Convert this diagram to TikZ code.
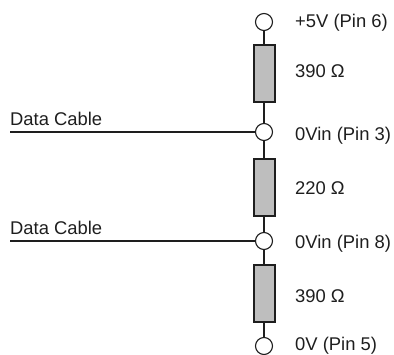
\documentclass[tikz,border=0pt]{standalone}
\usepackage{fontspec}
\setmainfont{Liberation Sans}
\definecolor{resgray}{RGB}{190,190,190}
\definecolor{inkc}{RGB}{30,30,30}
\tikzset{
  pin/.style={circle,draw=inkc,fill=white,line width=1.1pt,minimum size=17pt,inner sep=0pt},
  res/.style={rectangle,draw=inkc,fill=resgray,line width=1.2pt,minimum width=21pt,minimum height=57pt,inner sep=0pt},
  lab/.style={anchor=base west,inner sep=0pt,font=\fontsize{18.4pt}{20pt}\selectfont,text=inkc},
  wire/.style={draw=inkc,line width=1.1pt}
}
\begin{document}
\begin{tikzpicture}[x=1pt,y=-1pt]
\useasboundingbox (0,0) rectangle (394,355);
\node[pin] (p1) at (264,22) {};
\node[pin] (p2) at (264,132) {};
\node[pin] (p3) at (264,241) {};
\node[pin] (p4) at (264,346) {};
\node[res] (r1) at (264.5,73.5) {};
\node[res] (r2) at (264.5,187.5) {};
\node[res] (r3) at (264.5,293.5) {};
\coordinate (d1) at (10,132);
\coordinate (d2) at (10,241);
\draw[wire] (p1) -- (p2 |- r1.north);
\draw[wire] (p2 |- r1.south) -- (p2);
\draw[wire] (p2) -- (p2 |- r2.north);
\draw[wire] (p3 |- r2.south) -- (p3);
\draw[wire] (p3) -- (p3 |- r3.north);
\draw[wire] (p4 |- r3.south) -- (p4);
\draw[wire] (d1) -- (p2);
\draw[wire] (d2) -- (p3);
\node[lab] (t1) at (295,28) {+5V (Pin 6)};
\node[lab] (t2) at (295,78) {390 Ω};
\node[lab] (t3) at (295,140.5) {0Vin (Pin 3)};
\node[lab] (t4) at (295,194.5) {220 Ω};
\node[lab] (t5) at (295,248.5) {0Vin (Pin 8)};
\node[lab] (t6) at (295,302.5) {390 Ω};
\node[lab] (t7) at (295,351) {0V (Pin 5)};
\node[lab] (t8) at (10,126) {Data Cable};
\node[lab] (t9) at (10,235) {Data Cable};
\end{tikzpicture}
\end{document}
